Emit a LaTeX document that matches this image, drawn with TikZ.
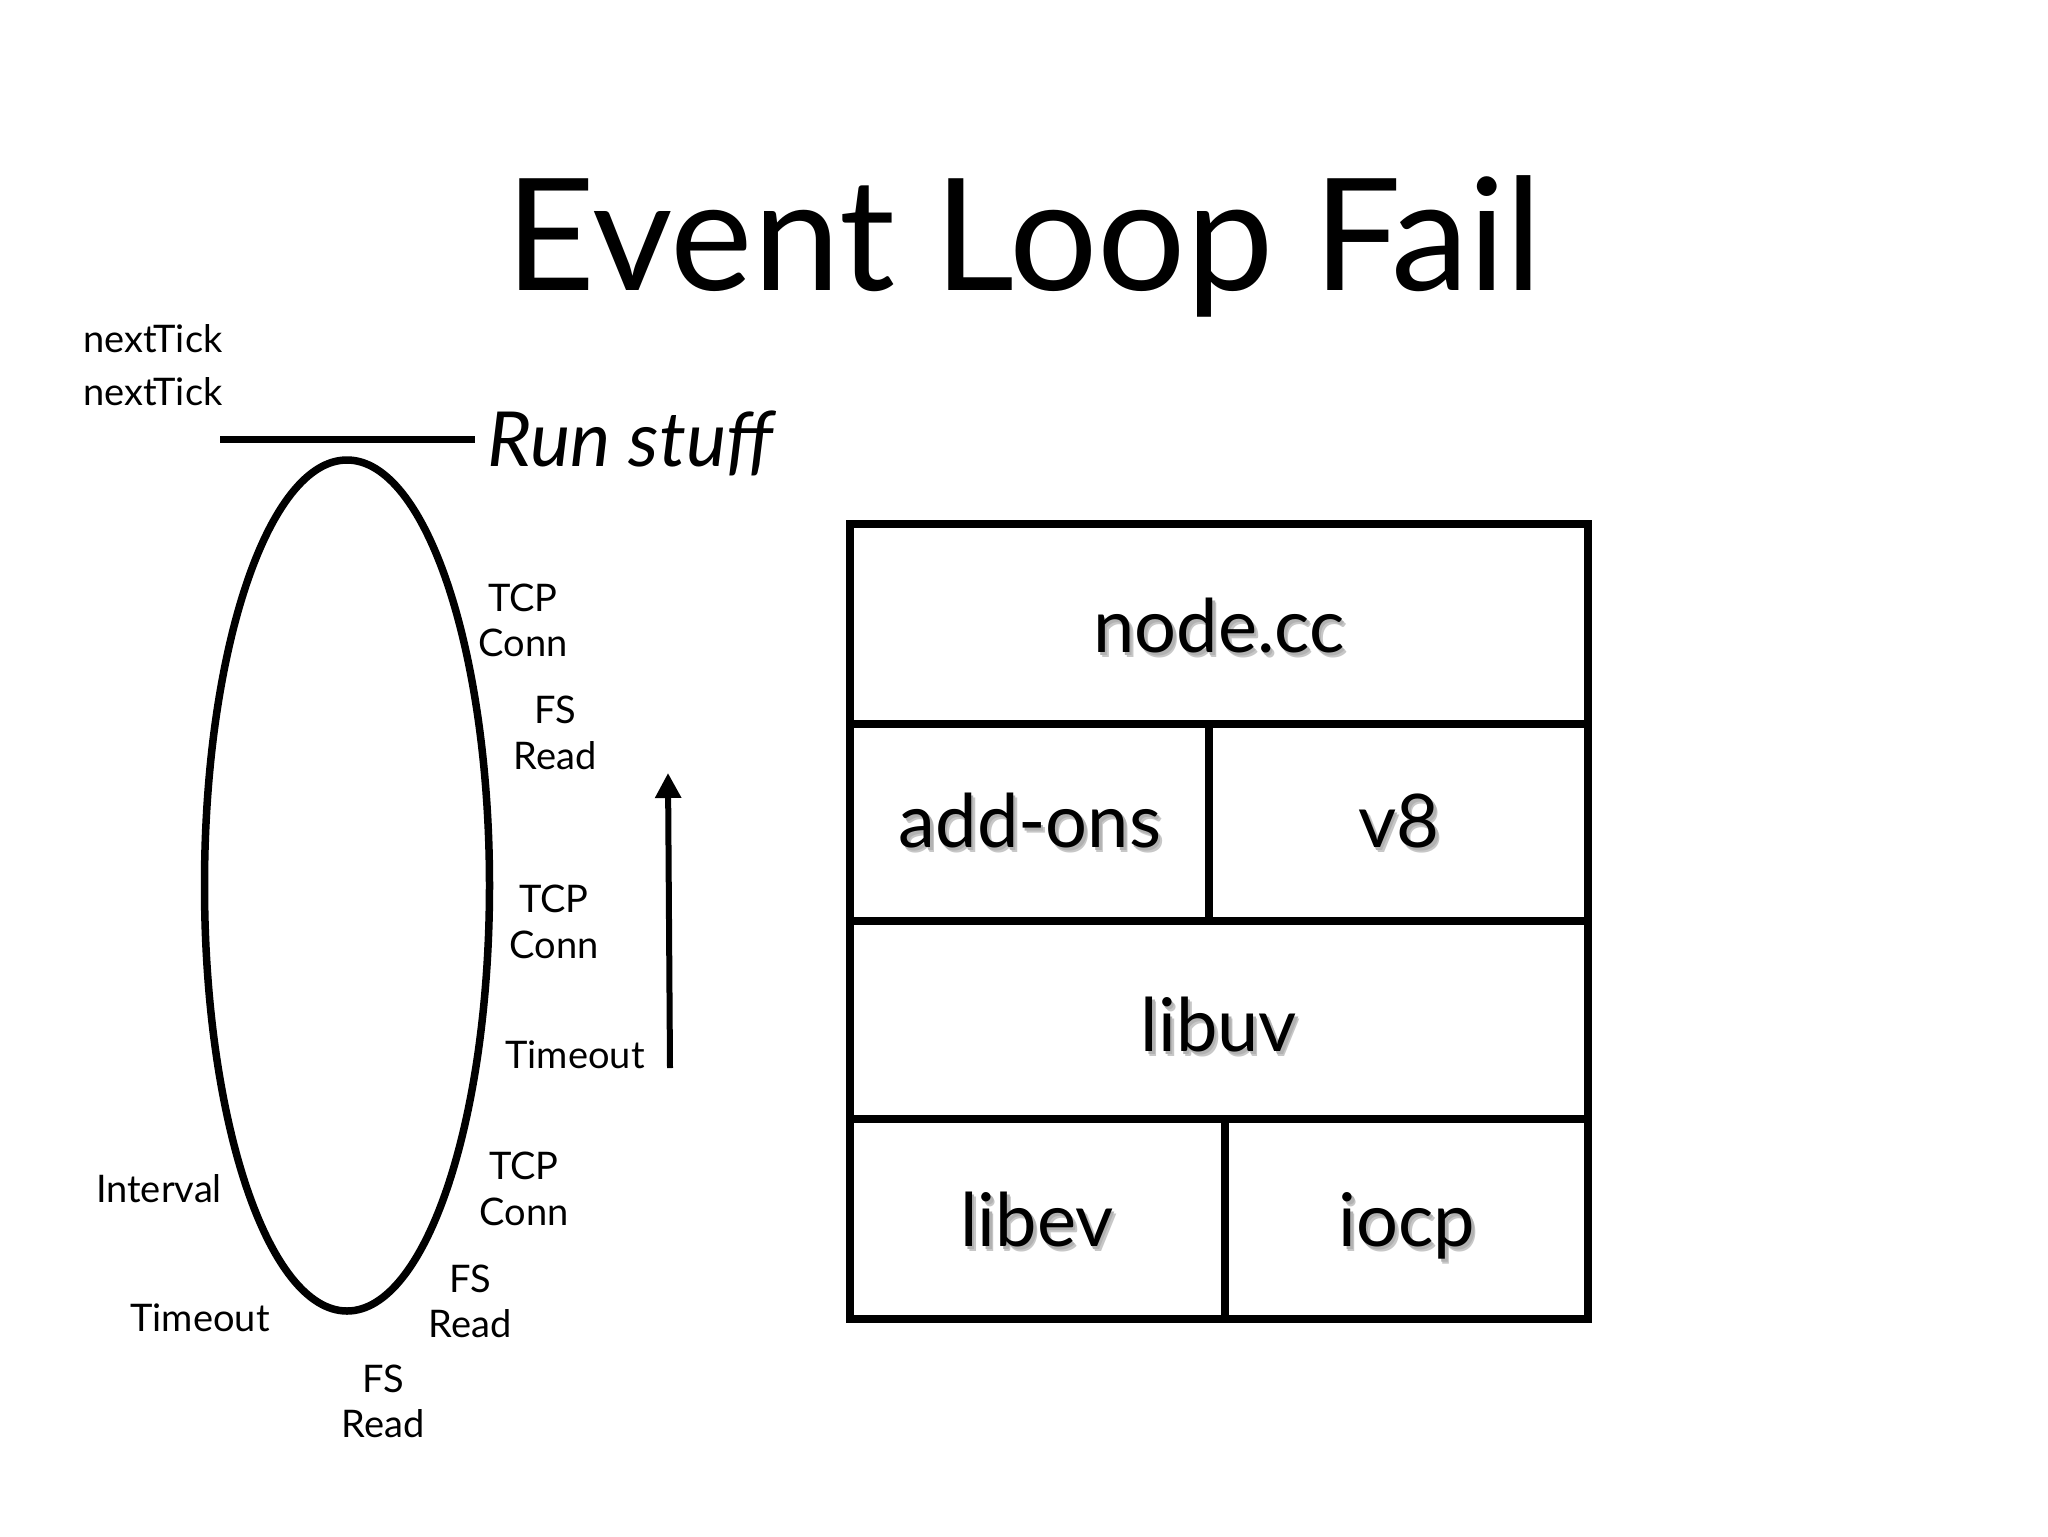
\documentclass[tikz,border=0pt]{standalone}
\usepackage{fontspec}
\setmainfont{Lato}
\usetikzlibrary{arrows.meta}
\tikzset{
  lbl/.style={inner sep=0pt, anchor=base, font=\fontsize{19}{23}\selectfont},
  ttl/.style={inner sep=0pt, anchor=base, font=\fontsize{78}{90}\selectfont},
  runtxt/.style={inner sep=0pt, anchor=base west, font=\fontsize{38}{44}\selectfont\itshape},
  boxtxt/.style={inner sep=0pt, anchor=base, font=\fontsize{37}{44}\selectfont},
  boxline/.style={line width=4pt, line cap=rect},
  loopline/.style={line width=3.75pt},
  arrowline/.style={line width=3pt, -{Triangle[width=12.5pt,length=12.5pt]}}
}
\newcommand\shd[1]{%
  \makebox[0pt][l]{\hspace{2pt}\raisebox{-2.5pt}{\textcolor{black!22}{#1}}}%
  \makebox[0pt][l]{\hspace{1.2pt}\raisebox{-1.5pt}{\textcolor{black!30}{#1}}}%
  #1}
\begin{document}
\begin{tikzpicture}[x=0.5pt,y=-0.5pt]
\useasboundingbox (0,0) rectangle (2048,1536);
\fill[white] (0,0) rectangle (2048,1536);
% title
\node[ttl] (title) at (1024,290) {Event Loop Fail};
% left part
\node[lbl, anchor=base west] (nt1) at (83,352) {nextTick};
\node[lbl, anchor=base west] (nt2) at (83,405) {nextTick};
\coordinate (lineL) at (220,439);
\coordinate (lineR) at (475,439);
\draw[line width=3.5pt] (lineL) -- (lineR);
\node[runtxt] (run) at (487,466) {Run stuff};
\draw[loopline] (347,885.5) ellipse [x radius=142.5, y radius=425.5];
\node[lbl] (tcpA1) at (523,611) {TCP};
\node[lbl] (tcpA2) at (523,656) {Conn};
\node[lbl] (fsA1) at (555,723) {FS};
\node[lbl] (fsA2) at (555,769) {Read};
\node[lbl] (tcpB1) at (554,912) {TCP};
\node[lbl] (tcpB2) at (554,958) {Conn};
\node[lbl] (toA) at (575,1068) {Timeout};
\node[lbl] (tcpC1) at (524,1179) {TCP};
\node[lbl] (tcpC2) at (524,1225) {Conn};
\node[lbl] (fsB1) at (470,1292) {FS};
\node[lbl] (fsB2) at (470,1337) {Read};
\node[lbl] (fsC1) at (383,1392) {FS};
\node[lbl] (fsC2) at (383,1437) {Read};
\node[lbl] (intv) at (159,1202) {Interval};
\node[lbl] (toB) at (200,1331) {Timeout};
\coordinate (arrS) at (670,1068);
\coordinate (arrE) at (668,773);
\draw[arrowline] (arrS) -- (arrE);
% stack box
\draw[boxline] (850,524) rectangle (1588,1319);
\draw[boxline] (850,724) -- (1588,724);
\draw[boxline] (850,921) -- (1588,921);
\draw[boxline] (850,1119) -- (1588,1119);
\draw[boxline] (1209,724) -- (1209,921);
\draw[boxline] (1225,1119) -- (1225,1319);
\node[boxtxt] (nodecc) at (1219,652) {\shd{node.cc}};
\node[boxtxt] (addons) at (1030,847) {\shd{add-ons}};
\node[boxtxt] (veight) at (1399,847) {\shd{v8}};
\node[boxtxt] (libuv) at (1219,1051) {\shd{libuv}};
\node[boxtxt] (libev) at (1037,1246) {\shd{libev}};
\node[boxtxt] (iocp) at (1407,1246) {\shd{iocp}};
\end{tikzpicture}
\end{document}
